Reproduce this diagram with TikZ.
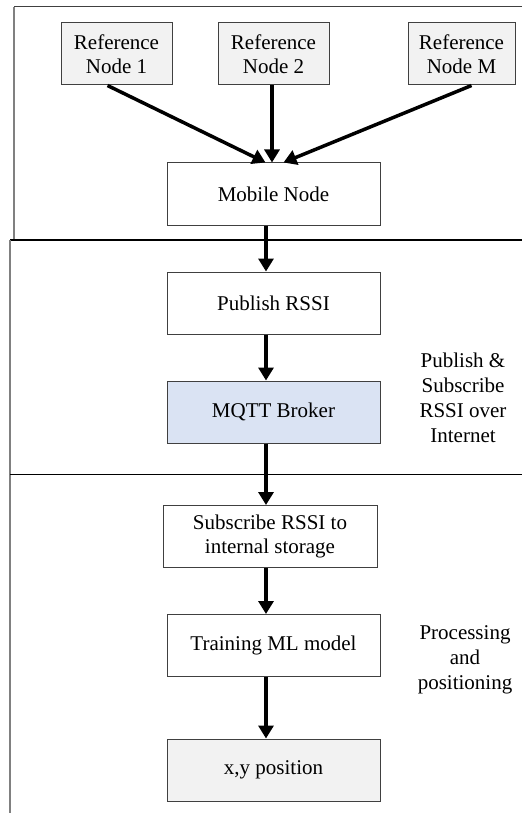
\documentclass[tikz,border=0pt]{standalone}
\usepackage{fontspec}
\setmainfont{Liberation Serif}
\usepackage{tikz}
\usetikzlibrary{arrows.meta, positioning}

\definecolor{boxgray}{HTML}{F2F2F2}
\definecolor{brokerblue}{HTML}{DAE3F3}
\definecolor{edgegray}{HTML}{404040}

\tikzset{
    stepbox/.style={draw=edgegray, line width=1pt, fill=white, inner sep=0pt,
        minimum width=213pt, minimum height=62pt, align=center,
        font=\fontsize{21}{24}\selectfont},
    refbox/.style={stepbox, fill=boxgray, minimum width=111pt},
    arr/.style={-{Triangle[length=13pt, width=15pt]}, line width=3.5pt},
    sidetext/.style={align=center, font=\fontsize{21}{25}\selectfont}
}

\begin{document}
\begin{tikzpicture}[x=1pt, y=-1pt]
    \useasboundingbox (0,0) rectangle (522,813);

    % Frames
    \draw[edgegray, line width=1pt] (522,7) -- (14,7);
    \draw[gray, line width=1.2pt] (14,7) -- (14,240);
    \draw[black, line width=1.5pt] (10,240) -- (522,240);
    \draw[gray, line width=1.2pt] (10,240) -- (10,813);
    \draw[black, line width=1pt] (10,474) -- (522,474);

    % Reference nodes
    \node[refbox] (ref1) at (116.5,54) {Reference\\Node 1};
    \node[refbox] (ref2) at (273.5,54) {Reference\\Node 2};
    \node[refbox, minimum width=107pt] (refM) at (461.5,54) {Reference\\Node M};

    % Processing chain
    \node[stepbox] (mobile) at (273.5,194) {Mobile Node};
    \node[stepbox] (publish) at (273.5,303) {Publish RSSI};
    \node[stepbox, fill=brokerblue] (broker) at (273.5,412) {MQTT Broker};
    \node[stepbox, minimum width=214pt] (subscribe) at (270,536.5) {Subscribe RSSI to\\internal storage};
    \node[stepbox] (training) at (273.5,645.5) {Training ML model};
    \node[stepbox, fill=boxgray] (position) at (273.5,770) {x,y position};

    % Side labels
    \node[sidetext] (pubsub) at (463,398) {Publish \&\\Subscribe\\RSSI over\\Internet};
    \node[sidetext] (proc) at (465,660) {Processing\\and\\positioning};

    % Arrows
    \draw[arr] ([xshift=-9pt]ref1.south) -- ([xshift=-8pt]mobile.north);
    \draw[arr] ([xshift=-1.5pt]ref2.south) -- ([xshift=-1.5pt]mobile.north);
    \draw[arr] ([xshift=10pt]refM.south) -- ([xshift=10pt]mobile.north);
    \foreach \a/\b in {mobile/publish, publish/broker, broker/subscribe,
                       subscribe/training, training/position}
        \draw[arr] ([xshift=-7.5pt]mobile.south |- \a.south) -- ([xshift=-7.5pt]mobile.south |- \b.north);
\end{tikzpicture}
\end{document}
